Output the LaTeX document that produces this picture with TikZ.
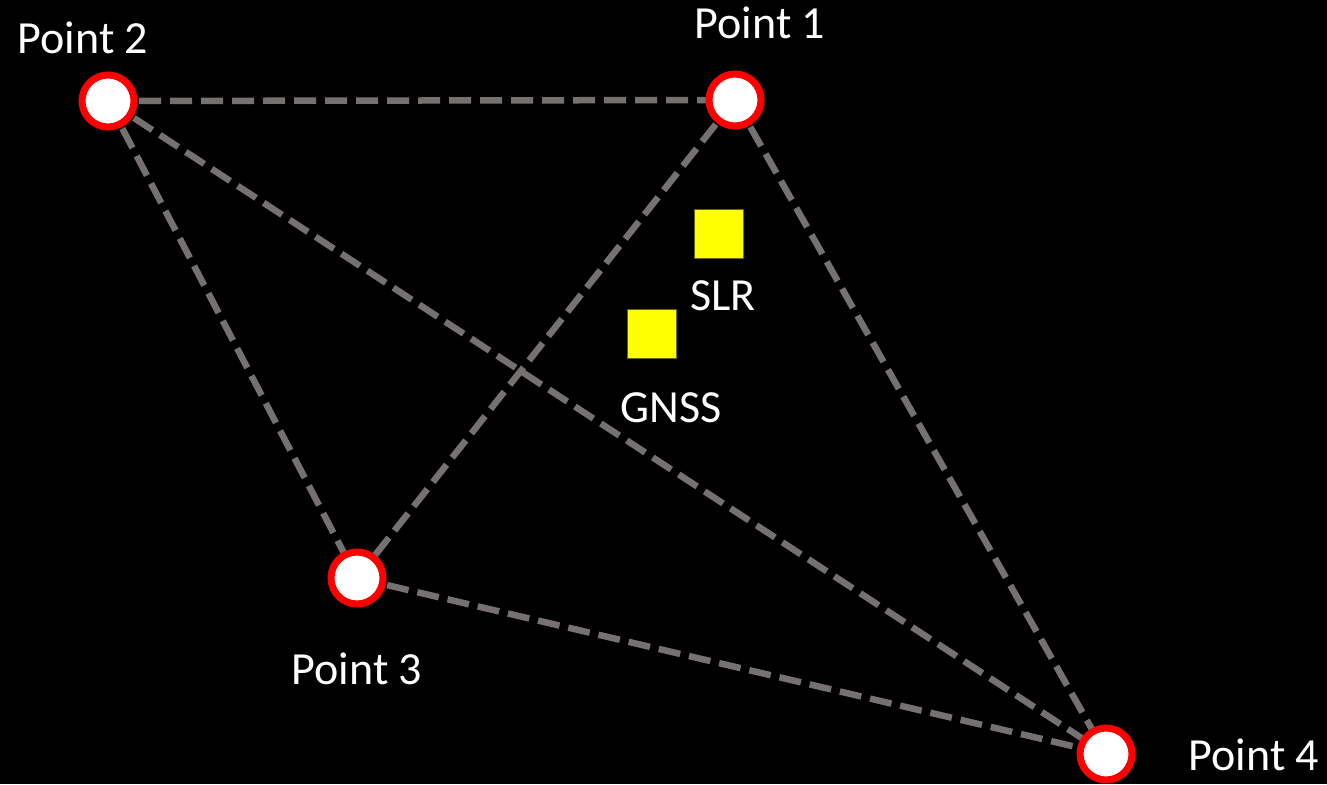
\documentclass[tikz,border=0pt]{standalone}
\usepackage{fontspec}
\setmainfont{Carlito}
\definecolor{edgegray}{RGB}{118,113,113}
\definecolor{ptred}{RGB}{255,0,0}
\definecolor{sq}{RGB}{255,255,0}
\tikzset{
  pt/.style={circle,draw=ptred,fill=white,line width=7pt,minimum size=52pt,inner sep=0pt},
  edge/.style={draw=edgegray,line width=6.5pt,dash pattern=on 22pt off 9pt},
  lab/.style={text=white,font=\fontsize{46}{52}\selectfont,anchor=base,inner sep=0pt},
  sqbox/.style={fill=sq,draw=black!60!sq,line width=0.8pt,minimum size=49pt,inner sep=0pt}
}
\begin{document}
\begin{tikzpicture}[x=1pt,y=-1pt]
\fill[black] (0,0) rectangle (1327,784);
\useasboundingbox (0,0) rectangle (1327,784);
\coordinate (c1) at (735,100);
\coordinate (c2) at (108,101);
\coordinate (c3) at (357,578);
\coordinate (c4) at (1106,754);
\draw[edge] (c2) -- (c1);
\draw[edge] (c2) -- (c3);
\draw[edge] (c2) -- (c4);
\draw[edge] (c1) -- (c3);
\draw[edge] (c1) -- (c4);
\draw[edge] (c3) -- (c4);
\node[pt] (p1) at (c1) {};
\node[pt] (p2) at (c2) {};
\node[pt] (p3) at (c3) {};
\node[pt] (p4) at (c4) {};
\node[sqbox] (slr) at (718.5,233.5) {};
\node[sqbox] (gnss) at (651.5,333.5) {};
\node[lab] (l1) at (760,39) {Point 1};
\node[lab] (l2) at (83,54) {Point 2};
\node[lab] (l3) at (357,684) {Point 3};
\node[lab] (l4) at (1254,770) {Point 4};
\node[lab] (lslr) at (723,310) {SLR};
\node[lab] (lgnss) at (671,422) {GNSS};
\end{tikzpicture}
\end{document}
